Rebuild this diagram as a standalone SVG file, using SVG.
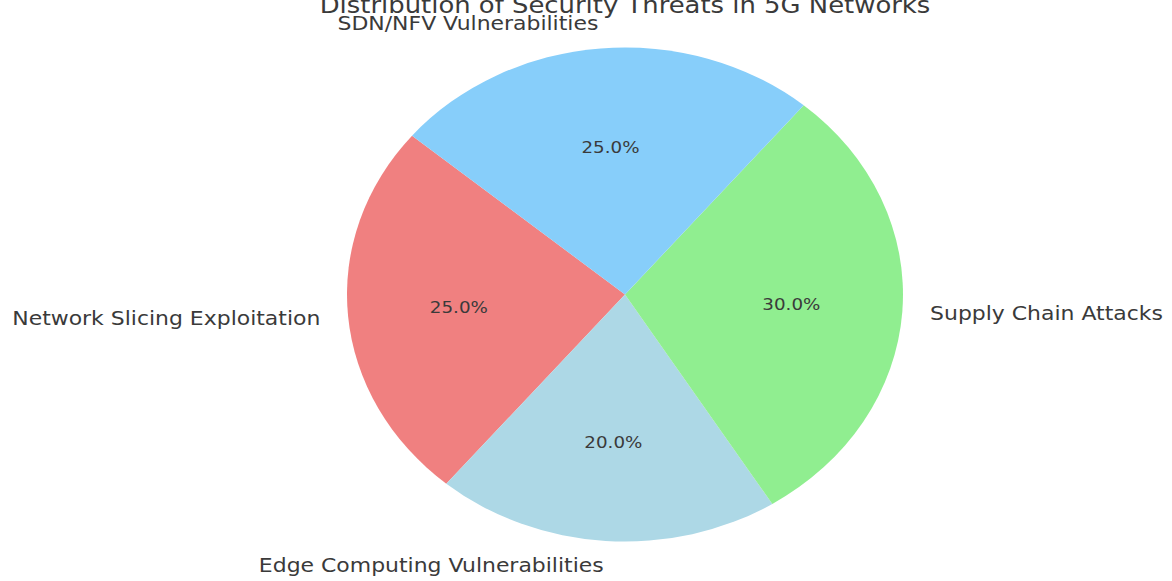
<svg xmlns="http://www.w3.org/2000/svg" width="1172" height="581" viewBox="0 0 1172 581">
  <style>
    text { font-family: "DejaVu Sans", "Liberation Sans", sans-serif; fill: #3a3a3a; }
    .title { font-size: 23px; text-anchor: middle; }
    .lbl { font-size: 19.5px; dominant-baseline: central; }
    .pct { font-size: 16.25px; text-anchor: middle; dominant-baseline: central; }
    .r { text-anchor: end; }
    .l { text-anchor: start; }
  </style>
  <rect width="1172" height="581" fill="#ffffff"/>
  <g transform="translate(625,294.5) scale(1.1255,1)">
    <text class="title" x="0" y="-281.5">Distribution of Security Threats in 5G Networks</text>
    <g id="network-slicing">
      <path d="M0,0 L-189.21,-158.77 A247,247 0 0 0 -158.77,189.21 Z" fill="#F08080"/>
      <text class="lbl r" x="-270.7" y="23.7">Network Slicing Exploitation</text>
      <text class="pct" x="-147.6" y="12.9">25.0%</text>
    </g>
    <g id="edge-computing">
      <path d="M0,0 L-158.77,189.21 A247,247 0 0 0 130.89,209.46 Z" fill="#ADD8E6"/>
      <text class="lbl r" x="-18.96" y="271.05">Edge Computing Vulnerabilities</text>
      <text class="pct" x="-10.34" y="147.85">20.0%</text>
    </g>
    <g id="supply-chain">
      <path d="M0,0 L130.89,209.46 A247,247 0 0 0 158.77,-189.21 Z" fill="#90EE90"/>
      <text class="lbl l" x="271.05" y="18.96">Supply Chain Attacks</text>
      <text class="pct" x="147.85" y="10.34">30.0%</text>
    </g>
    <g id="sdn-nfv">
      <path d="M0,0 L158.77,-189.21 A247,247 0 0 0 -189.21,-158.77 Z" fill="#87CEFA"/>
      <text class="lbl r" x="-23.7" y="-270.7">SDN/NFV Vulnerabilities</text>
      <text class="pct" x="-12.9" y="-147.6">25.0%</text>
    </g>
  </g>
</svg>
